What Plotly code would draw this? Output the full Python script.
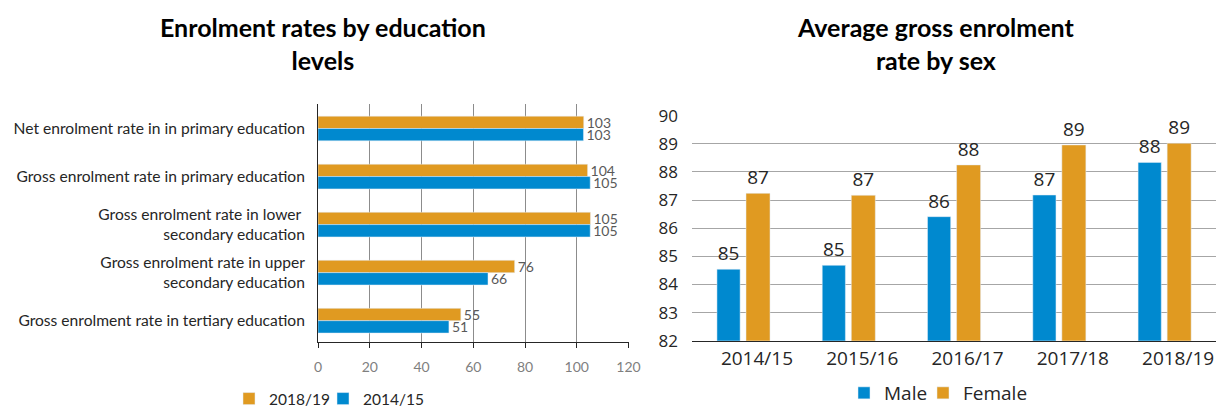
import plotly.graph_objects as go

# ---------------- data ----------------
levels = [
    "Net enrolment rate in in primary education",
    "Gross enrolment rate in primary education",
    "Gross enrolment rate in lower\u00a0<br>secondary education",
    "Gross enrolment rate in upper<br>secondary education",
    "Gross enrolment rate in tertiary education",
]
rate_2018_19 = [102.7, 104.2, 105.3, 76.0, 55.2]
rate_2014_15 = [102.6, 105.2, 105.2, 65.7, 50.6]

years = ["2014/15", "2015/16", "2016/17", "2017/18", "2018/19"]
male = [84.54, 84.68, 86.41, 87.18, 88.34]
female = [87.24, 87.17, 88.25, 88.96, 89.02]

x_ticks_left = [0, 20, 40, 60, 80, 100, 120]

ORANGE = "#E09A21"
BLUE = "#0089CF"
W, H = 1219, 407

fig = go.Figure()

# ---------------- left chart ----------------
fig.add_trace(go.Bar(
    name="2018/19", y=levels, x=rate_2018_19, orientation="h",
    marker=dict(color=ORANGE), width=0.257, offset=-0.257,
    text=[f"{v:.0f}" for v in rate_2018_19], textposition="outside",
    constraintext="none",
    textfont=dict(family="Lato", size=14, color="#595959"),
    cliponaxis=False, xaxis="x", yaxis="y", legend="legend",
))
fig.add_trace(go.Bar(
    name="2014/15", y=levels, x=rate_2014_15, orientation="h",
    marker=dict(color=BLUE), width=0.257, offset=0.0,
    text=[f"{v:.0f}" for v in rate_2014_15], textposition="outside",
    constraintext="none",
    textfont=dict(family="Lato", size=14, color="#595959"),
    cliponaxis=False, xaxis="x", yaxis="y", legend="legend2",
))

# ---------------- right chart ----------------
fig.add_trace(go.Bar(
    name="Male", x=years, y=male, marker=dict(color=BLUE),
    width=0.22, offset=-0.38,
    text=[f"{v:.0f}" for v in male], textposition="outside",
    constraintext="none",
    textfont=dict(family="Open Sans", size=19, color="#262626"),
    cliponaxis=False, xaxis="x2", yaxis="y2", legend="legend3",
))
fig.add_trace(go.Bar(
    name="Female", x=years, y=female, marker=dict(color=ORANGE),
    width=0.228, offset=-0.104,
    text=[f"{v:.0f}" for v in female], textposition="outside",
    constraintext="none",
    textfont=dict(family="Open Sans", size=19, color="#262626"),
    cliponaxis=False, xaxis="x2", yaxis="y2", legend="legend4",
))

left_legend_font = dict(family="Lato", size=15.5, color="#262626")
right_legend_font = dict(family="Open Sans", size=19, color="#262626")


def leg(x_px, y_px, font):
    return dict(orientation="h", x=x_px / W, y=1 - y_px / H, xanchor="left",
                yanchor="middle", font=font, itemwidth=30,
                bgcolor="rgba(0,0,0,0)")


fig.update_layout(
    width=W, height=H, autosize=False,
    margin=dict(l=0, r=0, t=0, b=0, pad=0, autoexpand=False),
    paper_bgcolor="white", plot_bgcolor="white",
    barmode="group", showlegend=True,
    xaxis=dict(
        domain=[318 / W, 628.5 / W], range=[0, 120], tickvals=x_ticks_left,
        showgrid=True, gridcolor="#8c8c8c", gridwidth=1, zeroline=False,
        showline=True, linecolor="#262626", linewidth=1,
        ticks="outside", ticklen=5, tickcolor="#262626",
        tickfont=dict(family="Lato", size=14, color="#7f7f7f"),
        ticklabelstandoff=7, anchor="y", automargin=False,
    ),
    yaxis=dict(
        domain=[1 - 341.7 / H, 1 - 104 / H], type="category",
        range=[4.437, -0.51], showgrid=False, zeroline=False,
        showline=True, linecolor="#262626", linewidth=1,
        tickfont=dict(family="Lato", size=15.6, color="#262626"),
        ticklabelstandoff=9, anchor="x", automargin=False,
    ),
    xaxis2=dict(
        domain=[692 / W, 1216 / W], type="category", range=[-0.617, 4.36],
        showgrid=False, zeroline=False, showline=True,
        linecolor="#262626", linewidth=1.3, ticks="",
        tickfont=dict(family="Open Sans", size=19, color="#262626"),
        anchor="y2", automargin=False,
    ),
    yaxis2=dict(
        domain=[1 - 340.7 / H, 1 - 115.7 / H], range=[82, 90], dtick=1,
        showgrid=True, gridcolor="#a6a6a6", gridwidth=1, zeroline=False,
        showline=False, ticks="",
        tickfont=dict(family="Open Sans", size=17, color="#262626"),
        ticklabelstandoff=13, anchor="x2", automargin=False,
    ),
    legend=leg(229, 399, left_legend_font),
    legend2=leg(323, 399, left_legend_font),
    legend3=leg(844, 393, right_legend_font),
    legend4=leg(923, 393, right_legend_font),
    annotations=[
        dict(text="<b>Enrolment rates by education<br>levels</b>", x=323 / W, y=1 - 43 / H,
             xref="paper", yref="paper", xanchor="center", yanchor="middle",
             showarrow=False, font=dict(family="Lato", size=25, color="#000000")),
        dict(text="<b>Average gross enrolment<br>rate by sex</b>", x=935 / W, y=1 - 43 / H,
             xref="paper", yref="paper", xanchor="center", yanchor="middle",
             showarrow=False, font=dict(family="Lato", size=25, color="#000000")),
    ],
)

fig.write_html(
    "out.html",
    config={"displayModeBar": False},
    post_script="document.body.style.margin='0';document.body.style.overflow='hidden';",
)
